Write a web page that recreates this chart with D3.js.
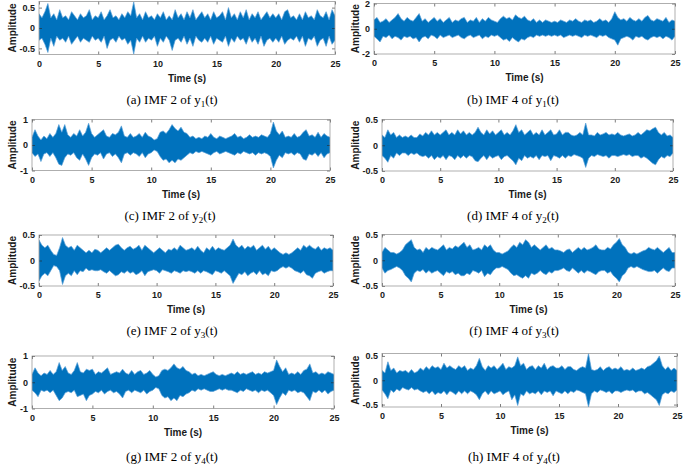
<!DOCTYPE html>
<html>
<head>
<meta charset="utf-8">
<script src="https://cdn.jsdelivr.net/npm/d3@7"></script>
<style>
  html, body { margin: 0; padding: 0; background: #fff; }
  svg { display: block; }
</style>
</head>
<body>
<svg id="chart" width="685" height="469"></svg>
<script>
// ---------------- data (envelope peaks, every 0.25 s) ----------------
const timeTicks = [0, 5, 10, 15, 20, 25];
const sampleStep = 0.25;

const yTicks_a = [-0.5, 0, 0.5];
const yTicks_b = [-2, 0, 2];
const yTicks_c = [-1, 0, 1];
const yTicks_d = [-0.5, 0, 0.5];
const yTicks_e = [-0.5, 0, 0.5];
const yTicks_f = [-0.5, 0, 0.5];
const yTicks_g = [-1, 0, 1];
const yTicks_h = [-0.5, 0, 0.5];

const captions = ["(a) IMF 2 of y", "(b) IMF 4 of y", "(c) IMF 2 of y", "(d) IMF 4 of y",
                  "(e) IMF 2 of y", "(f) IMF 4 of y", "(g) IMF 2 of y", "(h) IMF 4 of y"];
const captionSubs = ["1", "1", "2", "2", "3", "3", "4", "4"];

// (a) IMF 2 of y1
const imf2y1Upper = [0.35,0.25,0.4,0.6, 0.25,0.35,0.2,0.45, 0.25,0.3,0.2,0.4, 0.3,0.2,0.35,0.25, 0.3,0.45,0.2,0.3, 0.25,0.4,0.2,0.3, 0.45,0.25,0.3,0.2, 0.35,0.25,0.4,0.3, 0.64,0.25,0.35,0.2, 0.4,0.25,0.3,0.2, 0.35,0.25,0.4,0.2, 0.3,0.2,0.45,0.25, 0.35,0.2,0.4,0.25, 0.45,0.2,0.3,0.4, 0.25,0.35,0.2,0.4, 0.25,0.3,0.4,0.2, 0.5,0.25,0.35,0.2, 0.4,0.25,0.45,0.2, 0.35,0.25,0.4,0.2, 0.3,0.4,0.25,0.35, 0.25,0.35,0.2,0.4, 0.45,0.25,0.3,0.2, 0.35,0.2,0.4,0.25, 0.3,0.2,0.45,0.3, 0.25,0.4,0.2,0.45, 0.3];
const imf2y1Lower = [-0.3,-0.25,-0.4,-0.6, -0.25,-0.45,-0.2,-0.3, -0.25,-0.35,-0.2,-0.4, -0.3,-0.2,-0.35,-0.25, -0.3,-0.35,-0.2,-0.3, -0.25,-0.35,-0.2,-0.5, -0.3,-0.25,-0.35,-0.2, -0.3,-0.25,-0.4,-0.3, -0.64,-0.25,-0.35,-0.2, -0.35,-0.25,-0.3,-0.2, -0.45,-0.25,-0.35,-0.2, -0.3,-0.55,-0.3,-0.25, -0.35,-0.2,-0.4,-0.25, -0.45,-0.2,-0.3,-0.35, -0.25,-0.35,-0.2,-0.4, -0.25,-0.3,-0.35,-0.2, -0.45,-0.25,-0.35,-0.2, -0.3,-0.25,-0.4,-0.2, -0.35,-0.25,-0.4,-0.2, -0.45,-0.3,-0.25,-0.35, -0.25,-0.35,-0.2,-0.4, -0.3,-0.25,-0.3,-0.2, -0.35,-0.2,-0.45,-0.25, -0.3,-0.2,-0.45,-0.3, -0.25,-0.45,-0.2,-0.4, -0.3];

// (b) IMF 4 of y1
const imf4y1Upper = [0.7,0.9,0.5,0.6, 0.8,0.5,0.7,0.9, 1.2,0.8,0.6,0.9, 0.7,0.6,0.9,1.2, 0.6,0.8,0.5,0.7, 0.9,0.6,0.8,0.5, 0.7,0.9,0.5,0.7, 0.6,0.8,0.9,0.5, 0.7,0.6,0.9,0.5, 0.8,0.6,0.9,0.7, 0.6,0.5,0.8,1.0, 0.8,0.9,0.7,1.1, 0.9,0.8,1.0,0.7, 0.6,0.8,0.5,0.7, 0.5,0.7,0.6,0.5, 0.6,0.5,0.7,0.6, 0.5,0.7,0.6,0.8, 0.6,0.5,0.7,0.6, 0.7,0.5,0.6,0.8, 0.6,0.7,0.5,0.8, 1.35,0.9,0.7,0.8, 0.6,0.9,0.7,0.6, 0.8,0.6,0.9,1.05, 0.7,0.6,0.8,0.7, 0.6,0.9,0.5,0.7, 0.6];
const imf4y1Lower = [-0.6,-0.8,-1.05,-0.6, -0.7,-0.5,-0.8,-0.6, -0.7,-0.9,-0.6,-0.7, -0.6,-0.8,-0.7,-1.05, -0.7,-0.6,-0.8,-0.5, -0.6,-0.8,-0.5,-0.7, -0.6,-0.5,-0.7,-0.6, -0.5,-0.7,-0.8,-0.6, -0.5,-0.7,-0.6,-0.5, -0.8,-0.6,-0.7,-0.5, -0.6,-0.5,-0.7,-0.9, -0.8,-1.0,-0.7,-0.9, -1.05,-0.8,-0.9,-0.7, -0.6,-0.7,-0.5,-0.6, -0.5,-0.6,-0.5,-0.6, -0.5,-0.6,-0.5,-0.7, -0.6,-0.5,-0.6,-0.5, -0.6,-0.7,-0.5,-0.6, -0.5,-0.6,-0.7,-0.5, -0.6,-0.5,-0.7,-0.8, -0.9,-1.3,-0.8,-0.7, -0.6,-0.7,-0.9,-0.6, -0.7,-0.6,-0.8,-0.9, -0.7,-0.6,-0.7,-0.6, -0.8,-0.6,-0.7,-0.9, -0.6];

// (c) IMF 2 of y2
const imf2y2Upper = [0.3,0.6,0.35,0.2, 0.35,0.25,0.45,0.3, 0.45,0.8,0.5,0.8, 0.4,0.3,0.45,0.35, 0.6,0.35,0.5,0.85, 0.45,0.3,0.4,0.5, 0.6,0.35,0.3,0.45, 0.4,0.5,0.75,0.35, 0.3,0.45,0.3,0.35, 0.45,0.3,0.5,0.35, 0.3,0.2,0.25,0.5, 0.55,0.45,0.6,0.8, 0.65,0.55,0.7,0.5, 0.45,0.3,0.35,0.25, 0.3,0.25,0.35,0.3, 0.45,0.3,0.25,0.35, 0.3,0.25,0.3,0.35, 0.45,0.3,0.35,0.25, 0.3,0.4,0.3,0.35, 0.3,0.4,0.35,0.3, 0.45,0.9,0.55,0.4, 0.55,0.3,0.35,0.3, 0.45,0.3,0.35,0.5, 0.6,0.35,0.4,0.3, 0.5,0.3,0.45,0.35, 0.3];
const imf2y2Lower = [-0.3,-0.45,-0.35,-0.65, -0.35,-0.3,-0.45,-0.3, -0.5,-0.75,-0.8,-0.5, -0.35,-0.4,-0.3,-0.5, -0.6,-0.35,-0.55,-0.8, -0.5,-0.35,-0.4,-0.3, -0.55,-0.35,-0.3,-0.45, -0.35,-0.5,-0.7,-0.35, -0.3,-0.4,-0.3,-0.35, -0.45,-0.3,-0.5,-0.35, -0.3,-0.2,-0.25,-0.45, -0.6,-0.55,-0.7,-0.6, -0.7,-0.55,-0.6,-0.5, -0.4,-0.3,-0.35,-0.25, -0.3,-0.25,-0.3,-0.35, -0.4,-0.3,-0.25,-0.35, -0.3,-0.25,-0.3,-0.35, -0.4,-0.3,-0.35,-0.25, -0.3,-0.35,-0.3,-0.4, -0.3,-0.35,-0.3,-0.35, -0.45,-0.9,-0.6,-0.4, -0.5,-0.3,-0.35,-0.3, -0.4,-0.3,-0.35,-0.55, -0.6,-0.35,-0.4,-0.3, -0.45,-0.3,-0.5,-0.35, -0.3];

// (d) IMF 4 of y2
const imf4y2Upper = [0.2,0.15,0.3,0.2, 0.25,0.15,0.2,0.15, 0.18,0.15,0.2,0.15, 0.15,0.22,0.18,0.25, 0.2,0.28,0.2,0.25, 0.2,0.25,0.3,0.2, 0.25,0.2,0.3,0.22, 0.28,0.2,0.25,0.2, 0.25,0.35,0.25,0.2, 0.3,0.22,0.28,0.2, 0.25,0.3,0.2,0.25, 0.2,0.28,0.4,0.25, 0.3,0.2,0.25,0.3, 0.2,0.25,0.2,0.3, 0.2,0.25,0.3,0.2, 0.22,0.3,0.2,0.25, 0.25,0.2,0.18,0.2, 0.25,0.2,0.43,0.2, 0.2,0.18,0.25,0.2, 0.22,0.25,0.2,0.22, 0.2,0.25,0.2,0.18, 0.2,0.22,0.18,0.2, 0.25,0.2,0.25,0.3, 0.28,0.32,0.35,0.25, 0.2,0.25,0.18,0.2, 0.15];
const imf4y2Lower = [-0.2,-0.25,-0.33,-0.2, -0.25,-0.15,-0.2,-0.15, -0.15,-0.2,-0.15,-0.18, -0.15,-0.2,-0.22,-0.2, -0.25,-0.2,-0.28,-0.22, -0.25,-0.2,-0.28,-0.2, -0.22,-0.28,-0.2,-0.25, -0.2,-0.25,-0.2,-0.22, -0.3,-0.32,-0.25,-0.2, -0.28,-0.2,-0.25,-0.22, -0.2,-0.28,-0.22,-0.2, -0.25,-0.3,-0.38,-0.25, -0.3,-0.2,-0.25,-0.22, -0.25,-0.2,-0.28,-0.2, -0.22,-0.2,-0.3,-0.2, -0.22,-0.25,-0.2,-0.25, -0.2,-0.22,-0.18,-0.2, -0.22,-0.25,-0.43,-0.25, -0.2,-0.22,-0.18,-0.2, -0.22,-0.2,-0.25,-0.2, -0.2,-0.22,-0.2,-0.18, -0.2,-0.18,-0.22,-0.2, -0.2,-0.25,-0.22,-0.25, -0.3,-0.35,-0.38,-0.28, -0.22,-0.25,-0.2,-0.22, -0.15];

// (e) IMF 2 of y3
const imf2y3Upper = [0.4,0.3,0.25,0.3, 0.2,0.12,0.1,0.25, 0.45,0.3,0.25,0.28, 0.2,0.3,0.25,0.2, 0.15,0.2,0.15,0.22, 0.2,0.15,0.2,0.25, 0.2,0.25,0.3,0.32, 0.25,0.2,0.25,0.28, 0.22,0.25,0.3,0.2, 0.3,0.25,0.2,0.15, 0.2,0.25,0.2,0.15, 0.22,0.2,0.25,0.2, 0.3,0.25,0.2,0.22, 0.25,0.2,0.28,0.2, 0.15,0.25,0.2,0.28, 0.2,0.25,0.22,0.2, 0.25,0.3,0.42,0.3, 0.25,0.3,0.22,0.28, 0.25,0.3,0.2,0.25, 0.3,0.22,0.28,0.2, 0.25,0.2,0.15,0.12, 0.15,0.12,0.15,0.2, 0.25,0.2,0.3,0.25, 0.3,0.25,0.22,0.28, 0.2,0.25,0.22,0.25, 0.2];
const imf2y3Lower = [-0.4,-0.3,-0.25,-0.3, -0.2,-0.1,-0.12,-0.2, -0.47,-0.3,-0.25,-0.3, -0.2,-0.28,-0.2,-0.22, -0.15,-0.2,-0.18,-0.2, -0.2,-0.18,-0.22,-0.25, -0.2,-0.25,-0.3,-0.28, -0.22,-0.25,-0.2,-0.25, -0.22,-0.28,-0.25,-0.2, -0.3,-0.22,-0.2,-0.18, -0.2,-0.25,-0.18,-0.2, -0.22,-0.25,-0.2,-0.22, -0.25,-0.2,-0.22,-0.2, -0.22,-0.25,-0.2,-0.25, -0.2,-0.22,-0.25,-0.28, -0.2,-0.22,-0.25,-0.2, -0.25,-0.3,-0.45,-0.35, -0.25,-0.28,-0.22,-0.3, -0.25,-0.22,-0.28,-0.2, -0.28,-0.25,-0.3,-0.2, -0.22,-0.2,-0.15,-0.12, -0.15,-0.12,-0.15,-0.2, -0.22,-0.25,-0.2,-0.28, -0.3,-0.35,-0.25,-0.22, -0.2,-0.25,-0.22,-0.2, -0.2];

// (f) IMF 4 of y3
const imf4y3Upper = [0.15,0.25,0.2,0.15, 0.15,0.12,0.15,0.2, 0.3,0.35,0.4,0.25, 0.2,0.22,0.15,0.25, 0.2,0.25,0.22,0.2, 0.25,0.3,0.2,0.25, 0.22,0.28,0.25,0.3, 0.35,0.25,0.3,0.2, 0.22,0.25,0.2,0.3, 0.25,0.3,0.2,0.15, 0.15,0.12,0.15,0.18, 0.25,0.3,0.25,0.35, 0.3,0.4,0.35,0.25, 0.3,0.25,0.2,0.25, 0.3,0.22,0.25,0.2, 0.2,0.18,0.15,0.2, 0.22,0.15,0.2,0.25, 0.2,0.25,0.2,0.22, 0.25,0.3,0.22,0.2, 0.2,0.25,0.22,0.3, 0.35,0.42,0.3,0.25, 0.15,0.12,0.15,0.12, 0.15,0.18,0.2,0.25, 0.22,0.2,0.25,0.2, 0.15,0.2,0.25,0.15, 0.15];
const imf4y3Lower = [-0.15,-0.25,-0.2,-0.18, -0.15,-0.12,-0.15,-0.2, -0.3,-0.35,-0.42,-0.25, -0.2,-0.22,-0.18,-0.25, -0.2,-0.25,-0.22,-0.2, -0.25,-0.3,-0.22,-0.25, -0.22,-0.28,-0.25,-0.3, -0.3,-0.25,-0.28,-0.2, -0.22,-0.25,-0.2,-0.32, -0.25,-0.28,-0.2,-0.15, -0.15,-0.12,-0.15,-0.18, -0.25,-0.3,-0.28,-0.32, -0.35,-0.3,-0.35,-0.25, -0.28,-0.25,-0.2,-0.25, -0.28,-0.22,-0.25,-0.2, -0.2,-0.18,-0.15,-0.2, -0.22,-0.15,-0.2,-0.25, -0.2,-0.25,-0.2,-0.22, -0.25,-0.28,-0.22,-0.2, -0.2,-0.25,-0.22,-0.3, -0.35,-0.42,-0.3,-0.25, -0.15,-0.12,-0.15,-0.12, -0.15,-0.18,-0.2,-0.22, -0.22,-0.2,-0.25,-0.2, -0.15,-0.2,-0.22,-0.15, -0.15];

// (g) IMF 2 of y4
const imf2y4Upper = [0.3,0.55,0.35,0.25, 0.35,0.3,0.45,0.3, 0.4,0.75,0.45,0.6, 0.35,0.3,0.45,0.75, 0.4,0.35,0.5,0.45, 0.5,0.3,0.4,0.35, 0.45,0.55,0.3,0.35, 0.4,0.35,0.5,0.35, 0.3,0.45,0.3,0.4, 0.45,0.3,0.35,0.45, 0.3,0.2,0.25,0.45, 0.5,0.45,0.55,0.7, 0.55,0.5,0.6,0.45, 0.4,0.3,0.35,0.25, 0.3,0.25,0.3,0.35, 0.4,0.3,0.25,0.3, 0.25,0.3,0.35,0.3, 0.4,0.3,0.35,0.3, 0.35,0.4,0.3,0.35, 0.3,0.4,0.35,0.4, 0.45,0.85,0.6,0.4, 0.55,0.3,0.35,0.3, 0.4,0.3,0.45,0.5, 0.7,0.35,0.4,0.3, 0.35,0.3,0.4,0.35, 0.3];
const imf2y4Lower = [-0.3,-0.4,-0.55,-0.3, -0.35,-0.3,-0.4,-0.3, -0.5,-0.7,-0.6,-0.4, -0.35,-0.4,-0.3,-0.55, -0.5,-0.45,-0.7,-0.5, -0.45,-0.35,-0.4,-0.3, -0.45,-0.35,-0.3,-0.4, -0.35,-0.45,-0.6,-0.35, -0.3,-0.4,-0.3,-0.35, -0.4,-0.3,-0.45,-0.35, -0.3,-0.2,-0.25,-0.5, -0.6,-0.55,-0.7,-0.6, -0.7,-0.5,-0.55,-0.45, -0.4,-0.3,-0.35,-0.25, -0.3,-0.25,-0.3,-0.35, -0.35,-0.3,-0.25,-0.3, -0.25,-0.3,-0.3,-0.35, -0.4,-0.3,-0.35,-0.25, -0.3,-0.35,-0.3,-0.4, -0.3,-0.35,-0.3,-0.4, -0.5,-0.85,-0.6,-0.4, -0.5,-0.3,-0.35,-0.3, -0.4,-0.35,-0.4,-0.55, -0.7,-0.35,-0.4,-0.3, -0.4,-0.3,-0.45,-0.35, -0.3];

// (h) IMF 4 of y4
const imf4y4Upper = [0.2,0.15,0.38,0.2, 0.25,0.15,0.2,0.18, 0.2,0.15,0.22,0.15, 0.18,0.25,0.2,0.28, 0.22,0.3,0.25,0.28, 0.22,0.35,0.25,0.3, 0.25,0.22,0.3,0.25, 0.3,0.2,0.25,0.22, 0.3,0.45,0.28,0.2, 0.3,0.25,0.3,0.22, 0.28,0.35,0.22,0.28, 0.25,0.3,0.48,0.3, 0.35,0.22,0.28,0.3, 0.22,0.3,0.25,0.35, 0.22,0.28,0.3,0.25, 0.25,0.3,0.22,0.28, 0.28,0.22,0.2,0.25, 0.28,0.25,0.55,0.22, 0.2,0.22,0.28,0.2, 0.25,0.28,0.22,0.25, 0.22,0.28,0.2,0.22, 0.2,0.25,0.2,0.22, 0.25,0.22,0.28,0.3, 0.35,0.4,0.5,0.3, 0.22,0.28,0.2,0.25, 0.2];
const imf4y4Lower = [-0.2,-0.28,-0.38,-0.2, -0.25,-0.18,-0.22,-0.15, -0.18,-0.2,-0.15,-0.2, -0.18,-0.22,-0.25,-0.22, -0.28,-0.22,-0.3,-0.25, -0.28,-0.22,-0.3,-0.22, -0.25,-0.3,-0.22,-0.28, -0.22,-0.28,-0.22,-0.25, -0.3,-0.4,-0.28,-0.22, -0.3,-0.22,-0.28,-0.25, -0.22,-0.3,-0.25,-0.22, -0.4,-0.3,-0.52,-0.28, -0.32,-0.22,-0.28,-0.25, -0.28,-0.22,-0.3,-0.22, -0.25,-0.22,-0.32,-0.22, -0.25,-0.28,-0.22,-0.28, -0.22,-0.25,-0.2,-0.22, -0.25,-0.28,-0.55,-0.28, -0.22,-0.25,-0.2,-0.22, -0.25,-0.22,-0.28,-0.22, -0.22,-0.25,-0.22,-0.2, -0.22,-0.2,-0.25,-0.22, -0.22,-0.28,-0.25,-0.3, -0.35,-0.4,-0.52,-0.3, -0.25,-0.28,-0.22,-0.25, -0.2];

// ---------------- layout ----------------
const layout = [
  { box: [39, 335, 1.5, 54.5],  yDom: [-0.65, 0.65], yt: yTicks_a, up: imf2y1Upper, lo: imf2y1Lower, lblX: 12.5, capX: 172, capY: 104 },
  { box: [374, 675, 3.5, 54],   yDom: [-2, 2],       yt: yTicks_b, up: imf4y1Upper, lo: imf4y1Lower, lblX: 355, capX: 513, capY: 104 },
  { box: [32, 330, 119.5, 170.5], yDom: [-1, 1],     yt: yTicks_c, up: imf2y2Upper, lo: imf2y2Lower, lblX: 12.5, capX: 170, capY: 220 },
  { box: [382, 673, 119.5, 171], yDom: [-0.5, 0.5],  yt: yTicks_d, up: imf4y2Upper, lo: imf4y2Lower, lblX: 355, capX: 513, capY: 220 },
  { box: [39, 333, 235, 286],   yDom: [-0.5, 0.5],   yt: yTicks_e, up: imf2y3Upper, lo: imf2y3Lower, lblX: 12.5, capX: 172, capY: 335 },
  { box: [382, 675, 234.5, 286], yDom: [-0.5, 0.5],  yt: yTicks_f, up: imf4y3Upper, lo: imf4y3Lower, lblX: 355, capX: 514, capY: 335 },
  { box: [32, 334, 356, 408.5], yDom: [-1, 1],       yt: yTicks_g, up: imf2y4Upper, lo: imf2y4Lower, lblX: 12.5, capX: 172, capY: 461 },
  { box: [382, 677, 353.5, 407], yDom: [-0.55, 0.55], yt: yTicks_h, up: imf4y4Upper, lo: imf4y4Lower, lblX: 355, capX: 514, capY: 461 }
];

const svg = d3.select("#chart");
const lineColor = "#0072BD";
const tipColor = "#5aa0d8";
const axisColor = "#262626";

layout.forEach((p, k) => {
  const [x0, x1, y0, y1] = p.box;
  const x = d3.scaleLinear().domain([0, 25]).range([x0, x1]);
  const y = d3.scaleLinear().domain(p.yDom).range([y1, y0]);
  const g = svg.append("g");

  const clipId = "clip" + k;
  g.append("clipPath").attr("id", clipId)
    .append("rect").attr("x", x0).attr("y", y0).attr("width", x1 - x0).attr("height", y1 - y0);

  // signal drawn as the band between the read upper and lower peaks
  const band = p.up.map((v, i) => ({ t: i * sampleStep, hi: v, lo: p.lo[i] }));
  const area = d3.area().x(d => x(d.t)).y0(d => y(d.lo)).y1(d => y(d.hi));
  g.append("path")
    .attr("clip-path", `url(#${clipId})`)
    .attr("d", area(band))
    .attr("fill", lineColor)
    .attr("stroke", tipColor)
    .attr("stroke-width", 0.7)
    .attr("stroke-linejoin", "miter");

  // axes
  const xAxis = d3.axisBottom(x).tickValues(timeTicks).tickSize(-3).tickPadding(6).tickFormat(d3.format("d"));
  const yAxis = d3.axisLeft(y).tickValues(p.yt).tickSize(-3).tickPadding(4).tickFormat(d => String(d));
  const gx = g.append("g").attr("transform", `translate(0,${y1})`).call(xAxis);
  const gy = g.append("g").attr("transform", `translate(${x0},0)`).call(yAxis);
  const gxt = g.append("g").attr("transform", `translate(0,${y0})`).call(d3.axisTop(x).tickValues(timeTicks).tickSize(-3).tickFormat(""));
  const gyr = g.append("g").attr("transform", `translate(${x1},0)`).call(d3.axisRight(y).tickValues(p.yt).tickSize(-3).tickFormat(""));
  [gx, gy, gxt, gyr].forEach(a => {
    a.select(".domain").remove();
    a.selectAll("line").attr("stroke", axisColor).attr("stroke-width", 0.6);
    a.selectAll("text")
      .attr("fill", "#1a1a1a")
      .style("font-family", "'Liberation Sans', Arial, sans-serif")
      .style("font-size", "9px")
      .style("font-weight", "bold");
  });

  g.append("rect")
    .attr("x", x0).attr("y", y0).attr("width", x1 - x0).attr("height", y1 - y0)
    .attr("fill", "none").attr("stroke", "#8c8c8c").attr("stroke-width", 0.7);

  // axis labels
  g.append("text")
    .attr("x", (x0 + x1) / 2).attr("y", y1 + 27)
    .attr("text-anchor", "middle")
    .style("font-family", "'Liberation Sans', Arial, sans-serif")
    .style("font-size", "10px").style("font-weight", "bold").attr("fill", "#1a1a1a")
    .text("Time (s)");
  g.append("text")
    .attr("transform", `translate(${p.lblX + 3.5},${(y0 + y1) / 2}) rotate(-90)`)
    .attr("text-anchor", "middle")
    .style("font-family", "'Liberation Sans', Arial, sans-serif")
    .style("font-size", "10px").style("font-weight", "bold").attr("fill", "#1a1a1a")
    .text("Amplitude");

  // caption
  const cap = g.append("text")
    .attr("x", p.capX).attr("y", p.capY)
    .attr("text-anchor", "middle")
    .style("font-family", "'Liberation Serif', 'Times New Roman', serif")
    .style("font-size", "13px").attr("fill", "#000");
  cap.append("tspan").text(captions[k]);
  cap.append("tspan").attr("dy", 3).style("font-size", "9px").text(captionSubs[k]);
  cap.append("tspan").attr("dy", -3).text("(t)");
});
</script>
</body>
</html>
